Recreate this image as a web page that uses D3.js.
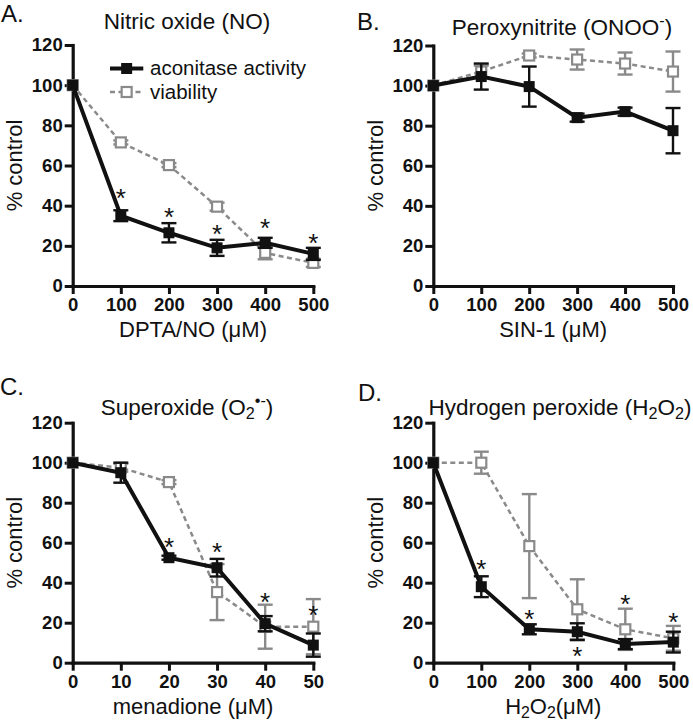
<!DOCTYPE html>
<html>
<head>
<meta charset="utf-8">
<script src="https://cdn.jsdelivr.net/npm/d3@7"></script>
<style>
  html, body { margin: 0; padding: 0; background: #fff; }
  svg { display: block; }
  text { font-family: "Liberation Sans", Arial, Helvetica, sans-serif; fill: #111; }
</style>
</head>
<body>
<svg id="chart" width="693" height="723"></svg>
<script>
// ---------------- data ----------------
const dosesA = [0, 100, 200, 300, 400, 500];
const aconA = [100, 35, 26.5, 19, 21.5, 16];
const aconErrA = [0, 2.7, 4.8, 4, 2.5, 3];
const viaA = [100, 71.5, 60.2, 39.5, 16.5, 11.5];
const viaErrA = [0, 1, 1, 2, 3.2, 2];
const starsA = [null, 46, 36.5, 28, 31, 23.2];

const dosesB = [0, 100, 200, 300, 400, 500];
const aconB = [100, 104.5, 99.5, 84, 87, 77.5];
const aconErrB = [0, 6.5, 10, 2, 2, 11.3];
const viaB = [100, 107, 115, 113, 111, 107];
const viaErrB = [0, 3, 1, 5, 5.5, 10];
const starsB = [null, null, null, null, null, null];

const dosesC = [0, 10, 20, 30, 40, 50];
const aconC = [100, 95, 52.5, 47.5, 19.5, 8.8];
const aconErrC = [0, 5, 1, 4.4, 3.8, 5.8];
const viaC = [100, 97.5, 90.3, 35.3, 18, 18];
const viaErrC = [0, 2, 1, 14, 11, 13.8];
const starsC = [null, null, 60, 57.2, 32.2, 26];

const dosesD = [0, 100, 200, 300, 400, 500];
const aconD = [100, 38, 16.7, 15.5, 9.3, 10.3];
const aconErrD = [0, 5.2, 2.5, 4.2, 2.5, 5.2];
const viaD = [100, 100, 58.3, 26.7, 16.7, 12.2];
const viaErrD = [0, 5.5, 26, 15, 10.3, 6.2];
const starsD = [null, 48.8, 23.9, 5.5, 31.5, 22.3];

const yTicks = [0, 20, 40, 60, 80, 100, 120];
const seriesNames = ["aconitase activity", "viability"];
const yTitle = "% control";

// ---------------- layout ----------------
const GREY = "#8a8a8a";
const BLACK = "#111";
const FS = 22;       // general text size
const TFS = 22.5;    // panel title size
const LFS = 20.5;    // legend text size
const svg = d3.select("#chart");

const panels = [
  { label: "A.", doses: dosesA, acon: aconA, aconErr: aconErrA, via: viaA, viaErr: viaErrA, stars: starsA,
    left: 72.7, right: 313.3, top: 45, bottom: 286,
    labelPos: [1, 22], titleY: 29, titleX: 187, xTitleY: 337, yTitleX: 22,
    title: [["Nitric oxide (NO)", null]], xTitle: [["DPTA/NO (\u03bcM)", null]], legend: true },
  { label: "B.", doses: dosesB, acon: aconB, aconErr: aconErrB, via: viaB, viaErr: viaErrB, stars: starsB,
    left: 433.3, right: 673, top: 45.5, bottom: 286,
    labelPos: [357, 30], titleY: 35, titleX: 562, xTitleY: 337, yTitleX: 383,
    title: [["Peroxynitrite (ONOO", null], ["-", "sup"], [")", null]], xTitle: [["SIN-1 (\u03bcM)", null]] },
  { label: "C.", doses: dosesC, acon: aconC, aconErr: aconErrC, via: viaC, viaErr: viaErrC, stars: starsC,
    left: 72.7, right: 313.3, top: 422.7, bottom: 662.7,
    labelPos: [0, 395], titleY: 415, titleX: 187, xTitleY: 714, yTitleX: 22,
    title: [["Superoxide (O", null], ["2", "sub"], ["\u2022-", "sup"], [")", null]], xTitle: [["menadione (\u03bcM)", null]] },
  { label: "D.", doses: dosesD, acon: aconD, aconErr: aconErrD, via: viaD, viaErr: viaErrD, stars: starsD,
    left: 433.3, right: 673.3, top: 422.7, bottom: 662.7,
    labelPos: [358, 401], titleY: 415, titleX: 560, xTitleY: 714, yTitleX: 383,
    title: [["Hydrogen peroxide (H", null], ["2", "sub"], ["O", null], ["2", "sub"], [")", null]],
    xTitle: [["H", null], ["2", "sub"], ["O", null], ["2", "sub"], ["(\u03bcM)", null]] }
];

function richText(sel, parts, size) {
  parts.forEach(([t, kind]) => {
    const ts = sel.append("tspan").text(t);
    if (kind === "sub") ts.attr("font-size", size * 0.72).attr("baseline-shift", "-25%");
    if (kind === "sup") ts.attr("font-size", size * 0.72).attr("baseline-shift", "55%");
  });
}

panels.forEach(p => {
  const x = d3.scaleLinear().domain([p.doses[0], p.doses[p.doses.length - 1]]).range([p.left, p.right]);
  const y = d3.scaleLinear().domain([0, 120]).range([p.bottom, p.top]);
  const g = svg.append("g");

  // axes
  const yAxis = g.append("g").attr("transform", `translate(${p.left},0)`)
    .call(d3.axisLeft(y).tickValues(yTicks).tickSize(8).tickPadding(2).tickSizeOuter(0));
  const xAxis = g.append("g").attr("transform", `translate(0,${p.bottom})`)
    .call(d3.axisBottom(x).tickValues(p.doses).tickSize(8).tickPadding(4).tickSizeOuter(0));
  [yAxis, xAxis].forEach(a => {
    a.select(".domain").attr("stroke", BLACK).attr("stroke-width", 3.2).attr("stroke-linecap", "square");
    a.selectAll(".tick line").attr("stroke", BLACK).attr("stroke-width", 3);
    a.selectAll(".tick text").attr("font-size", 18.5).attr("font-weight", "bold")
      .attr("font-family", "'Liberation Sans', Arial, sans-serif").attr("fill", BLACK);
  });

  // titles
  g.append("text").attr("x", p.labelPos[0]).attr("y", p.labelPos[1]).attr("font-size", 24).text(p.label);
  const t = g.append("text").attr("x", p.titleX).attr("y", p.titleY).attr("font-size", TFS).attr("text-anchor", "middle");
  richText(t, p.title, TFS);
  const xt = g.append("text").attr("x", (p.left + p.right) / 2).attr("y", p.xTitleY).attr("font-size", FS).attr("text-anchor", "middle");
  richText(xt, p.xTitle, FS);
  g.append("text").attr("transform", `translate(${p.yTitleX},${(p.top + p.bottom) / 2}) rotate(-90)`)
    .attr("font-size", FS).attr("text-anchor", "middle").text(yTitle);

  const line = d3.line().x((d, i) => x(p.doses[i])).y(d => y(d));

  function drawSeries(vals, errs, color, isAcon) {
    const sg = g.append("g");
    sg.append("path").datum(vals).attr("d", line).attr("fill", "none")
      .attr("stroke", color).attr("stroke-width", isAcon ? 4 : 2.5)
      .attr("stroke-dasharray", isAcon ? null : "5,3.5");
    const eb = sg.selectAll("g.err").data(vals.map((v, i) => ({ v, e: errs[i], d: p.doses[i] })).filter(o => o.e > 0))
      .join("g").attr("stroke", color).attr("stroke-width", 2.4);
    eb.append("line").attr("x1", o => x(o.d)).attr("x2", o => x(o.d)).attr("y1", o => y(o.v - o.e)).attr("y2", o => y(o.v + o.e));
    eb.append("line").attr("x1", o => x(o.d) - 7.5).attr("x2", o => x(o.d) + 7.5).attr("y1", o => y(o.v + o.e)).attr("y2", o => y(o.v + o.e));
    eb.append("line").attr("x1", o => x(o.d) - 7.5).attr("x2", o => x(o.d) + 7.5).attr("y1", o => y(o.v - o.e)).attr("y2", o => y(o.v - o.e));
    if (isAcon) {
      sg.selectAll("rect").data(vals).join("rect")
        .attr("x", (d, i) => x(p.doses[i]) - 5.5).attr("y", d => y(d) - 5.5)
        .attr("width", 11).attr("height", 11).attr("fill", color);
    } else {
      sg.selectAll("rect").data(vals).join("rect")
        .attr("x", (d, i) => x(p.doses[i]) - 5).attr("y", d => y(d) - 5)
        .attr("width", 10).attr("height", 10).attr("fill", "#fff").attr("stroke", color).attr("stroke-width", 2.2);
    }
  }
  drawSeries(p.via, p.viaErr, GREY, false);
  drawSeries(p.acon, p.aconErr, BLACK, true);

  // significance stars
  g.selectAll("text.star").data(p.stars.map((s, i) => ({ s, d: p.doses[i] })).filter(o => o.s != null))
    .join("text").attr("class", "star")
    .attr("x", o => x(o.d)).attr("y", o => y(o.s) + 13)
    .attr("text-anchor", "middle").attr("font-size", 26).text("*");

  if (p.legend) {
    const lg = g.append("g");
    const lx1 = 110, lx2 = 143.3, tx = 150;
    const rows = [{ y: 68.5, c: BLACK, acon: true }, { y: 92, c: GREY, acon: false }];
    rows.forEach((r, i) => {
      lg.append("line").attr("x1", lx1).attr("x2", lx2).attr("y1", r.y).attr("y2", r.y)
        .attr("stroke", r.c).attr("stroke-width", r.acon ? 4 : 2.5).attr("stroke-dasharray", r.acon ? null : "5,3.5");
      if (r.acon) lg.append("rect").attr("x", (lx1 + lx2) / 2 - 5.5).attr("y", r.y - 5.5).attr("width", 11).attr("height", 11).attr("fill", r.c);
      else lg.append("rect").attr("x", (lx1 + lx2) / 2 - 5).attr("y", r.y - 5).attr("width", 10).attr("height", 10)
        .attr("fill", "#fff").attr("stroke", r.c).attr("stroke-width", 2.2);
      lg.append("text").attr("x", tx).attr("y", r.y + 6.5).attr("font-size", LFS).text(seriesNames[i]);
    });
  }
});
</script>
</body>
</html>
